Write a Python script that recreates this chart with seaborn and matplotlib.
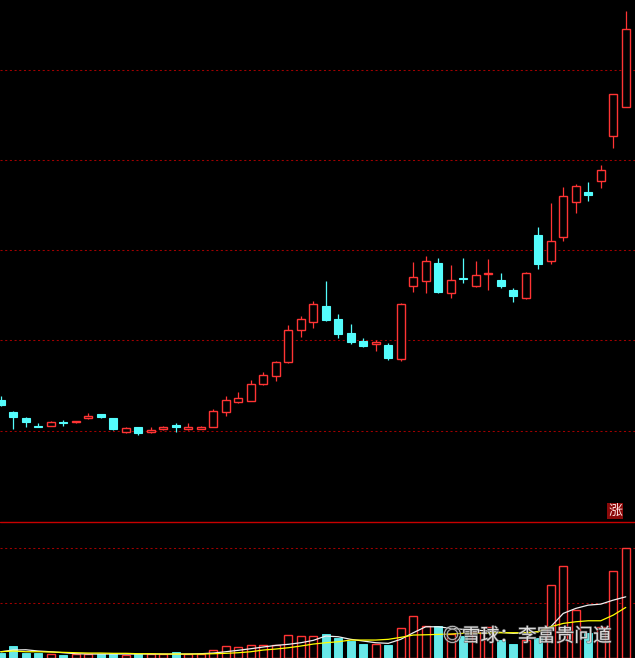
import numpy as np
import pandas as pd
import matplotlib
matplotlib.use("Agg")
import matplotlib.pyplot as plt
import matplotlib.patheffects as pe
from matplotlib.lines import Line2D
import seaborn as sns

# ---- data ----
open_ = [2.68, 2.41, 2.28, 2.11, 2.11, 2.20, 2.19, 2.28, 2.36, 2.28,
         1.98, 2.08, 1.98, 2.04, 2.13, 2.04, 2.04, 2.09, 2.42, 2.64,
         2.66, 3.03, 3.22, 3.53, 4.22, 4.41, 4.76, 4.48, 4.16, 3.99,
         3.92, 3.90, 3.58, 5.21, 5.32, 5.71, 5.06, 5.38, 5.21, 5.46,
         5.34, 5.12, 4.93, 6.33, 5.77, 6.30, 7.07, 7.28, 7.54, 8.53, 9.17]
close = [2.57, 2.30, 2.19, 2.09, 2.20, 2.18, 2.22, 2.33, 2.31, 2.03,
         2.05, 1.96, 2.02, 2.09, 2.09, 2.08, 2.09, 2.43, 2.68, 2.72,
         3.03, 3.23, 3.52, 4.22, 4.47, 4.81, 4.45, 4.14, 3.97, 3.88,
         3.97, 3.60, 4.81, 5.40, 5.76, 5.07, 5.34, 5.35, 5.45, 5.49,
         5.21, 4.99, 5.49, 5.69, 6.20, 7.20, 7.42, 7.21, 7.77, 9.46, 10.90]
high = [2.77, 2.44, 2.30, 2.17, 2.21, 2.24, 2.22, 2.39, 2.37, 2.28,
        2.09, 2.08, 2.08, 2.11, 2.18, 2.16, 2.10, 2.47, 2.77, 2.85,
        3.12, 3.29, 3.55, 4.34, 4.53, 4.87, 5.32, 4.58, 4.36, 4.05,
        4.01, 3.94, 4.82, 5.73, 5.87, 5.82, 5.67, 5.82, 5.76, 5.80,
        5.49, 5.15, 5.51, 6.51, 7.04, 7.39, 7.46, 7.50, 7.89, 9.46, 11.30]
low = [2.55, 2.04, 2.08, 2.08, 2.10, 2.11, 2.17, 2.27, 2.28, 2.01,
       1.94, 1.91, 1.94, 2.02, 1.98, 2.02, 2.04, 2.08, 2.33, 2.61,
       2.65, 3.02, 3.11, 3.49, 4.08, 4.27, 4.44, 4.05, 3.91, 3.85,
       3.77, 3.57, 3.55, 5.08, 5.04, 5.04, 4.93, 5.27, 5.19, 5.12,
       5.15, 4.84, 4.91, 5.58, 5.69, 6.21, 6.82, 7.09, 7.37, 8.26, 9.16]
volume = [90, 213, 85, 85, 67, 49, 67, 67, 67, 67,
          49, 67, 67, 67, 104, 67, 67, 140, 213, 195,
          236, 231, 225, 413, 389, 389, 425, 364, 309, 249,
          249, 231, 535, 758, 576, 576, 425, 400, 467, 553,
          322, 249, 322, 358, 1322, 1667, 867, 449, 564, 1576, 2007]
vol_ma5 = [109, 140, 145, 122, 109, 91, 73, 67, 67, 67,
           67, 67, 67, 67, 67, 67, 73, 85, 109, 135,
           164, 195, 225, 244, 273, 316, 395, 382, 335, 304,
           273, 262, 335, 455, 564, 564, 535, 516, 504, 485,
           462, 444, 455, 473, 564, 807, 898, 958, 976, 1049, 1109]
vol_ma10 = [109, 122, 109, 109, 104, 98, 91, 85, 85, 80,
            80, 73, 73, 67, 67, 67, 67, 73, 80, 91,
            109, 140, 158, 182, 213, 249, 273, 291, 322, 322,
            322, 335, 371, 413, 418, 425, 431, 444, 444, 449,
            455, 455, 455, 473, 564, 625, 655, 673, 673, 776, 916]
price_grid = [2, 4, 6, 8, 10]
vol_grid = [1000, 2000]
badge_text = "涨"
watermark = "◎雪球：李富贵问道"

RED = "#FF3434"
CYAN = "#54FCFC"
GRID = "#A00000"

df = pd.DataFrame({"idx": np.arange(len(open_)), "open": open_, "close": close,
                   "high": high, "low": low, "volume": volume,
                   "ma5": vol_ma5, "ma10": vol_ma10})
df["dir"] = np.where(df["close"] >= df["open"], "up", "down")

sns.set_theme(style="dark")
plt.rcParams["font.family"] = ["Noto Sans CJK SC", "DejaVu Sans"]

W, H = 635, 658
fig = plt.figure(figsize=(W / 100, H / 100), dpi=100, facecolor="black")
split = 521
ax = fig.add_axes([0, (H - split) / H, 1, split / H])
axv = fig.add_axes([0, 0, 1, (H - split) / H])
for a in (ax, axv):
    a.set_facecolor("black")
    a.grid(False)
    for s in a.spines.values():
        s.set_visible(False)

XL = (-0.064, 50.74)
BW = 0.66

# ---- price panel ----
for y in price_grid:
    ax.axhline(y, color=GRID, lw=0.75, ls=(0, (2, 2.5)), zorder=1)

for r in df.itertuples():
    col = RED if r.dir == "up" else CYAN
    lo_b, hi_b = min(r.open, r.close), max(r.open, r.close)
    ax.vlines(r.idx, hi_b, r.high, color=col, lw=0.9, zorder=2)
    ax.vlines(r.idx, r.low, lo_b, color=col, lw=0.9, zorder=2)
    h = max(hi_b - lo_b, 0.02)
    if r.dir == "up":
        ax.bar(r.idx, h, bottom=lo_b, width=BW, facecolor="black",
               edgecolor=col, lw=1.0, zorder=3)
    else:
        ax.bar(r.idx, h, bottom=lo_b, width=BW, facecolor=col,
               edgecolor=col, lw=0.8, zorder=3)

ax.set_xlim(*XL)
ax.set_ylim(0, 11.54)
ax.set_xticks([]); ax.set_yticks([])
ax.set_xlabel(""); ax.set_ylabel("")

# ---- volume panel ----
for y in vol_grid:
    axv.axhline(y, color=GRID, lw=0.75, ls=(0, (2, 2.5)), zorder=1)

sns.barplot(data=df, x="idx", y="volume", hue="dir", native_scale=True,
            palette={"up": RED, "down": CYAN}, width=BW, dodge=False,
            errorbar=None, legend=False, ax=axv, zorder=3)
for p in axv.patches:
    fc = p.get_facecolor()
    if fc[0] > 0.9 and fc[1] < 0.5:
        p.set_facecolor("black")
        p.set_edgecolor(RED)
        p.set_linewidth(1.0)
    else:
        p.set_edgecolor(CYAN)
        p.set_linewidth(0.6)

sns.lineplot(data=df, x="idx", y="ma5", color="#F0F0F0", lw=0.9, ax=axv, zorder=4)
sns.lineplot(data=df, x="idx", y="ma10", color="#FFFF00", lw=0.9, ax=axv, zorder=4)

axv.set_xlim(*XL)
axv.set_ylim(-5, 2490)
axv.set_xticks([]); axv.set_yticks([])
axv.set_xlabel(""); axv.set_ylabel("")

# separator line between panels
fig.add_artist(Line2D([0, 1], [1 - 521.5 / H, 1 - 521.5 / H], transform=fig.transFigure,
                      color="#C80000", lw=1.0, zorder=10))

# badge
fig.text(615 / W, 1 - 511 / H, badge_text, color="#FFE0E0", fontsize=10,
         ha="center", va="center",
         bbox=dict(boxstyle="square,pad=0.08", facecolor="#8B0A0A", edgecolor="none"))

# watermark
fig.text(443 / W, 1 - 636 / H, watermark, color="white", alpha=0.75, fontsize=13.5,
         ha="left", va="center",
         path_effects=[pe.withStroke(linewidth=1.0, foreground="#555555")])

fig.savefig("out.png", dpi=100, facecolor="black")
